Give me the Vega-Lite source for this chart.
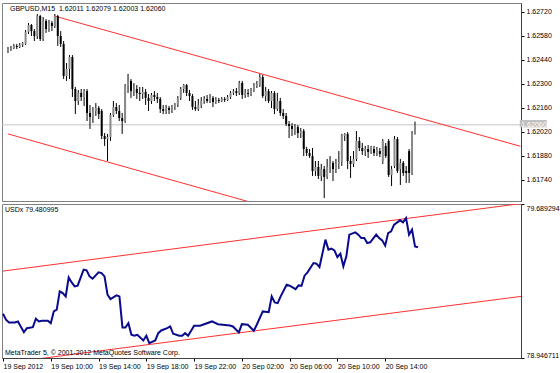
{
  "$schema": "https://vega.github.io/schema/vega-lite/v6.json",
  "background": "white",
  "padding": {"left": 1, "top": 2, "right": 0, "bottom": 0},
  "spacing": 3,
  "bounds": "flush",
  "config": {
    "view": {"stroke": "#808080", "strokeWidth": 1},
    "font": "Liberation Sans",
    "axis": {"labelFont": "Liberation Sans", "labelFontSize": 7, "labelColor": "#000000", "tickColor": "#000000", "domainColor": "#404040", "grid": false, "tickSize": 3, "labelOverlap": false}
  },
  "resolve": {"scale": {"x": "independent", "y": "independent"}},
  "datasets": {
    "bars": [
      {"i":0,"o":1.62491,"h":1.62514,"l":1.62479,"c":1.62502},
      {"i":1,"o":1.62502,"h":1.62520,"l":1.62491,"c":1.62508},
      {"i":2,"o":1.62508,"h":1.62532,"l":1.62502,"c":1.62520},
      {"i":3,"o":1.62520,"h":1.62532,"l":1.62502,"c":1.62514},
      {"i":4,"o":1.62514,"h":1.62537,"l":1.62508,"c":1.62526},
      {"i":5,"o":1.62526,"h":1.62543,"l":1.62514,"c":1.62537},
      {"i":6,"o":1.62532,"h":1.62613,"l":1.62526,"c":1.62602},
      {"i":7,"o":1.62602,"h":1.62654,"l":1.62590,"c":1.62642},
      {"i":8,"o":1.62642,"h":1.62648,"l":1.62578,"c":1.62607},
      {"i":9,"o":1.62607,"h":1.62619,"l":1.62549,"c":1.62578},
      {"i":10,"o":1.62578,"h":1.62707,"l":1.62561,"c":1.62695},
      {"i":11,"o":1.62695,"h":1.62701,"l":1.62549,"c":1.62561},
      {"i":12,"o":1.62561,"h":1.62689,"l":1.62549,"c":1.62666},
      {"i":13,"o":1.62666,"h":1.62677,"l":1.62596,"c":1.62619},
      {"i":14,"o":1.62619,"h":1.62672,"l":1.62602,"c":1.62654},
      {"i":15,"o":1.62654,"h":1.62666,"l":1.62607,"c":1.62637},
      {"i":16,"o":1.62637,"h":1.62707,"l":1.62625,"c":1.62695},
      {"i":17,"o":1.62695,"h":1.62701,"l":1.62520,"c":1.62578},
      {"i":18,"o":1.62578,"h":1.62607,"l":1.62514,"c":1.62532},
      {"i":19,"o":1.62532,"h":1.62549,"l":1.62327,"c":1.62345},
      {"i":20,"o":1.62345,"h":1.62421,"l":1.62316,"c":1.62386},
      {"i":21,"o":1.62386,"h":1.62467,"l":1.62327,"c":1.62456},
      {"i":22,"o":1.62456,"h":1.62467,"l":1.62222,"c":1.62269},
      {"i":23,"o":1.62269,"h":1.62281,"l":1.62123,"c":1.62199},
      {"i":24,"o":1.62199,"h":1.62263,"l":1.62176,"c":1.62246},
      {"i":25,"o":1.62246,"h":1.62269,"l":1.62199,"c":1.62222},
      {"i":26,"o":1.62222,"h":1.62269,"l":1.62170,"c":1.62257},
      {"i":27,"o":1.62257,"h":1.62269,"l":1.62082,"c":1.62129},
      {"i":28,"o":1.62129,"h":1.62176,"l":1.62036,"c":1.62106},
      {"i":29,"o":1.62106,"h":1.62164,"l":1.62071,"c":1.62141},
      {"i":30,"o":1.62141,"h":1.62187,"l":1.62112,"c":1.62158},
      {"i":31,"o":1.62158,"h":1.62170,"l":1.62094,"c":1.62123},
      {"i":32,"o":1.62141,"h":1.62152,"l":1.61977,"c":1.61995},
      {"i":33,"o":1.61995,"h":1.62012,"l":1.61937,"c":1.61977},
      {"i":34,"o":1.61977,"h":1.62007,"l":1.61849,"c":1.61989},
      {"i":35,"o":1.61989,"h":1.62129,"l":1.61966,"c":1.62117},
      {"i":36,"o":1.62117,"h":1.62199,"l":1.62106,"c":1.62164},
      {"i":37,"o":1.62164,"h":1.62187,"l":1.62123,"c":1.62141},
      {"i":38,"o":1.62141,"h":1.62176,"l":1.62082,"c":1.62100},
      {"i":39,"o":1.62100,"h":1.62129,"l":1.62007,"c":1.62082},
      {"i":40,"o":1.62082,"h":1.62298,"l":1.62071,"c":1.62287},
      {"i":41,"o":1.62287,"h":1.62357,"l":1.62246,"c":1.62316},
      {"i":42,"o":1.62316,"h":1.62327,"l":1.62217,"c":1.62257},
      {"i":43,"o":1.62257,"h":1.62304,"l":1.62228,"c":1.62269},
      {"i":44,"o":1.62269,"h":1.62292,"l":1.62211,"c":1.62246},
      {"i":45,"o":1.62246,"h":1.62281,"l":1.62199,"c":1.62240},
      {"i":46,"o":1.62240,"h":1.62281,"l":1.62211,"c":1.62252},
      {"i":47,"o":1.62252,"h":1.62269,"l":1.62176,"c":1.62217},
      {"i":48,"o":1.62217,"h":1.62240,"l":1.62141,"c":1.62199},
      {"i":49,"o":1.62199,"h":1.62246,"l":1.62182,"c":1.62234},
      {"i":50,"o":1.62234,"h":1.62257,"l":1.62199,"c":1.62222},
      {"i":51,"o":1.62222,"h":1.62246,"l":1.62187,"c":1.62211},
      {"i":52,"o":1.62211,"h":1.62222,"l":1.62129,"c":1.62152},
      {"i":53,"o":1.62152,"h":1.62176,"l":1.62123,"c":1.62141},
      {"i":54,"o":1.62141,"h":1.62176,"l":1.62123,"c":1.62158},
      {"i":55,"o":1.62158,"h":1.62170,"l":1.62123,"c":1.62147},
      {"i":56,"o":1.62147,"h":1.62176,"l":1.62129,"c":1.62164},
      {"i":57,"o":1.62164,"h":1.62187,"l":1.62147,"c":1.62176},
      {"i":58,"o":1.62176,"h":1.62228,"l":1.62164,"c":1.62217},
      {"i":59,"o":1.62217,"h":1.62281,"l":1.62205,"c":1.62269},
      {"i":60,"o":1.62269,"h":1.62298,"l":1.62246,"c":1.62292},
      {"i":61,"o":1.62292,"h":1.62298,"l":1.62228,"c":1.62246},
      {"i":62,"o":1.62246,"h":1.62263,"l":1.62199,"c":1.62228},
      {"i":63,"o":1.62228,"h":1.62240,"l":1.62147,"c":1.62164},
      {"i":64,"o":1.62164,"h":1.62199,"l":1.62141,"c":1.62152},
      {"i":65,"o":1.62152,"h":1.62211,"l":1.62141,"c":1.62176},
      {"i":66,"o":1.62176,"h":1.62222,"l":1.62158,"c":1.62199},
      {"i":67,"o":1.62199,"h":1.62228,"l":1.62182,"c":1.62211},
      {"i":68,"o":1.62211,"h":1.62234,"l":1.62187,"c":1.62199},
      {"i":69,"o":1.62199,"h":1.62240,"l":1.62187,"c":1.62217},
      {"i":70,"o":1.62217,"h":1.62228,"l":1.62164,"c":1.62193},
      {"i":71,"o":1.62193,"h":1.62222,"l":1.62182,"c":1.62205},
      {"i":72,"o":1.62205,"h":1.62217,"l":1.62187,"c":1.62199},
      {"i":73,"o":1.62199,"h":1.62222,"l":1.62193,"c":1.62211},
      {"i":74,"o":1.62211,"h":1.62222,"l":1.62193,"c":1.62205},
      {"i":75,"o":1.62205,"h":1.62234,"l":1.62199,"c":1.62222},
      {"i":76,"o":1.62222,"h":1.62257,"l":1.62211,"c":1.62246},
      {"i":77,"o":1.62246,"h":1.62269,"l":1.62234,"c":1.62257},
      {"i":78,"o":1.62257,"h":1.62275,"l":1.62228,"c":1.62246},
      {"i":79,"o":1.62246,"h":1.62316,"l":1.62234,"c":1.62304},
      {"i":80,"o":1.62304,"h":1.62316,"l":1.62211,"c":1.62234},
      {"i":81,"o":1.62234,"h":1.62269,"l":1.62217,"c":1.62246},
      {"i":82,"o":1.62246,"h":1.62269,"l":1.62222,"c":1.62240},
      {"i":83,"o":1.62240,"h":1.62275,"l":1.62228,"c":1.62263},
      {"i":84,"o":1.62263,"h":1.62304,"l":1.62252,"c":1.62287},
      {"i":85,"o":1.62287,"h":1.62316,"l":1.62275,"c":1.62298},
      {"i":86,"o":1.62292,"h":1.62357,"l":1.62281,"c":1.62339},
      {"i":87,"o":1.62339,"h":1.62351,"l":1.62217,"c":1.62228},
      {"i":88,"o":1.62228,"h":1.62281,"l":1.62199,"c":1.62257},
      {"i":89,"o":1.62257,"h":1.62269,"l":1.62187,"c":1.62199},
      {"i":90,"o":1.62199,"h":1.62257,"l":1.62158,"c":1.62246},
      {"i":91,"o":1.62246,"h":1.62257,"l":1.62123,"c":1.62152},
      {"i":92,"o":1.62152,"h":1.62246,"l":1.62141,"c":1.62199},
      {"i":93,"o":1.62199,"h":1.62217,"l":1.62112,"c":1.62129},
      {"i":94,"o":1.62129,"h":1.62152,"l":1.62094,"c":1.62112},
      {"i":95,"o":1.62112,"h":1.62129,"l":1.62053,"c":1.62065},
      {"i":96,"o":1.62065,"h":1.62082,"l":1.61983,"c":1.62053},
      {"i":97,"o":1.62053,"h":1.62071,"l":1.61995,"c":1.62036},
      {"i":98,"o":1.62036,"h":1.62065,"l":1.62001,"c":1.62047},
      {"i":99,"o":1.62047,"h":1.62059,"l":1.61983,"c":1.62012},
      {"i":100,"o":1.62012,"h":1.62042,"l":1.61983,"c":1.62024},
      {"i":101,"o":1.62024,"h":1.62036,"l":1.61878,"c":1.61919},
      {"i":102,"o":1.61919,"h":1.61931,"l":1.61878,"c":1.61896},
      {"i":103,"o":1.61896,"h":1.61919,"l":1.61867,"c":1.61878},
      {"i":104,"o":1.61878,"h":1.61925,"l":1.61762,"c":1.61791},
      {"i":105,"o":1.61791,"h":1.61849,"l":1.61762,"c":1.61814},
      {"i":106,"o":1.61814,"h":1.61849,"l":1.61744,"c":1.61762},
      {"i":107,"o":1.61762,"h":1.61832,"l":1.61732,"c":1.61802},
      {"i":108,"o":1.61802,"h":1.61820,"l":1.61633,"c":1.61756},
      {"i":109,"o":1.61756,"h":1.61861,"l":1.61744,"c":1.61814},
      {"i":110,"o":1.61814,"h":1.61878,"l":1.61779,"c":1.61838},
      {"i":111,"o":1.61838,"h":1.61849,"l":1.61732,"c":1.61802},
      {"i":112,"o":1.61802,"h":1.61861,"l":1.61779,"c":1.61832},
      {"i":113,"o":1.61832,"h":1.61907,"l":1.61802,"c":1.61843},
      {"i":114,"o":1.61843,"h":1.62007,"l":1.61820,"c":1.62001},
      {"i":115,"o":1.61995,"h":1.62012,"l":1.61966,"c":1.62007},
      {"i":116,"o":1.62007,"h":1.62018,"l":1.61802,"c":1.61849},
      {"i":117,"o":1.61849,"h":1.61878,"l":1.61750,"c":1.61832},
      {"i":118,"o":1.61832,"h":1.61907,"l":1.61814,"c":1.61861},
      {"i":119,"o":1.61861,"h":1.62024,"l":1.61849,"c":1.61966},
      {"i":120,"o":1.61966,"h":1.61989,"l":1.61907,"c":1.61925},
      {"i":121,"o":1.61925,"h":1.61954,"l":1.61884,"c":1.61907},
      {"i":122,"o":1.61907,"h":1.61937,"l":1.61878,"c":1.61919},
      {"i":123,"o":1.61919,"h":1.61942,"l":1.61867,"c":1.61902},
      {"i":124,"o":1.61902,"h":1.61937,"l":1.61890,"c":1.61925},
      {"i":125,"o":1.61919,"h":1.61937,"l":1.61878,"c":1.61896},
      {"i":126,"o":1.61896,"h":1.61931,"l":1.61878,"c":1.61913},
      {"i":127,"o":1.61907,"h":1.61925,"l":1.61872,"c":1.61890},
      {"i":128,"o":1.61849,"h":1.61977,"l":1.61832,"c":1.61966},
      {"i":129,"o":1.61937,"h":1.61954,"l":1.61867,"c":1.61878},
      {"i":130,"o":1.61966,"h":1.61977,"l":1.61756,"c":1.61767},
      {"i":131,"o":1.61767,"h":1.61820,"l":1.61703,"c":1.61802},
      {"i":132,"o":1.61820,"h":1.61995,"l":1.61808,"c":1.61977},
      {"i":133,"o":1.61977,"h":1.61989,"l":1.61779,"c":1.61791},
      {"i":134,"o":1.61802,"h":1.61861,"l":1.61709,"c":1.61838},
      {"i":135,"o":1.61838,"h":1.61849,"l":1.61762,"c":1.61779},
      {"i":136,"o":1.61791,"h":1.61820,"l":1.61721,"c":1.61779},
      {"i":137,"o":1.61907,"h":1.61919,"l":1.61721,"c":1.61779},
      {"i":138,"o":1.61779,"h":1.62024,"l":1.61767,"c":1.62012},
      {"i":139,"o":1.62011,"h":1.62079,"l":1.62003,"c":1.62060}
    ],
    "chanTop": [
      {"g":"u","i":16,"p":1.62694},
      {"g":"u","i":175,"p":1.61935},
      {"g":"l","i":0,"p":1.62007},
      {"g":"l","i":100,"p":1.61526}
    ],
    "chanBot": [
      {"g":"u","i":0,"v":79.36582},
      {"g":"u","i":175,"v":79.69412},
      {"g":"l","i":0,"v":78.92067},
      {"g":"l","i":175,"v":79.24656}
    ],
    "usdx": [
      {"i":0,"v":79.16015},{"i":1,"v":79.13118},{"i":2,"v":79.11814},{"i":4,"v":79.11814},
      {"i":5,"v":79.12297},{"i":7,"v":79.07131},{"i":8,"v":79.09062},{"i":10,"v":79.09545},
      {"i":11,"v":79.13601},{"i":12,"v":79.12297},{"i":13,"v":79.12634},{"i":15,"v":79.12634},
      {"i":16,"v":79.11476},{"i":17,"v":79.17125},{"i":18,"v":79.17943},{"i":19,"v":79.26781},
      {"i":20,"v":79.25960},{"i":21,"v":79.24367},{"i":22,"v":79.33540},{"i":23,"v":79.31126},
      {"i":24,"v":79.29195},{"i":25,"v":79.29533},{"i":27,"v":79.37258},{"i":28,"v":79.36920},
      {"i":29,"v":79.34023},{"i":30,"v":79.32913},{"i":32,"v":79.35954},{"i":33,"v":79.35616},
      {"i":34,"v":79.34023},{"i":35,"v":79.25188},{"i":36,"v":79.23064},{"i":38,"v":79.24850},
      {"i":39,"v":79.24367},{"i":40,"v":79.09400},{"i":41,"v":79.09400},{"i":42,"v":79.11476},
      {"i":43,"v":79.05875},{"i":44,"v":79.05393},{"i":45,"v":79.05875},{"i":47,"v":79.03124},
      {"i":48,"v":79.05393},{"i":49,"v":79.01821},{"i":51,"v":79.03124},{"i":52,"v":79.06648},
      {"i":53,"v":79.07952},{"i":55,"v":79.09062},{"i":56,"v":79.09883},{"i":57,"v":79.06358},
      {"i":59,"v":79.05393},{"i":60,"v":79.05393},{"i":61,"v":79.06648},{"i":62,"v":79.05393},
      {"i":64,"v":79.10220},{"i":66,"v":79.10220},{"i":70,"v":79.12297},{"i":72,"v":79.10993},
      {"i":76,"v":79.10366},{"i":77,"v":79.09883},{"i":79,"v":79.06986},{"i":80,"v":79.10993},
      {"i":82,"v":79.10704},{"i":84,"v":79.07807},{"i":85,"v":79.10704},{"i":87,"v":79.17125},
      {"i":89,"v":79.16787},{"i":90,"v":79.24367},{"i":91,"v":79.21470},{"i":92,"v":79.21132},
      {"i":93,"v":79.24367},{"i":95,"v":79.30016},{"i":96,"v":79.29533},{"i":98,"v":79.27892},
      {"i":99,"v":79.29678},{"i":100,"v":79.29533},{"i":101,"v":79.34361},{"i":102,"v":79.35954},
      {"i":104,"v":79.40444},{"i":105,"v":79.40155},{"i":106,"v":79.38513},{"i":108,"v":79.51742},
      {"i":109,"v":79.46914},{"i":110,"v":79.47397},{"i":111,"v":79.46576},{"i":112,"v":79.43341},
      {"i":113,"v":79.44983},{"i":114,"v":79.38851},{"i":115,"v":79.43679},{"i":116,"v":79.54156},
      {"i":118,"v":79.55266},{"i":119,"v":79.54156},{"i":120,"v":79.52514},{"i":121,"v":79.52514},
      {"i":122,"v":79.50100},{"i":123,"v":79.50438},{"i":125,"v":79.54156},{"i":126,"v":79.52514},
      {"i":127,"v":79.51404},{"i":128,"v":79.48845},{"i":129,"v":79.54928},{"i":130,"v":79.55749},
      {"i":131,"v":79.58984},{"i":133,"v":79.61060},{"i":134,"v":79.60094},{"i":135,"v":79.62171},
      {"i":136,"v":79.54156},{"i":137,"v":79.56570},{"i":138,"v":79.48507},{"i":139,"v":79.480995}
    ],
    "one": [{}]
  },
  "vconcat": [
    {
      "width": 519,
      "height": 198,
      "layer": [
        {
          "data": {"name": "one"},
          "mark": {"type": "rule", "color": "#c4c4c4", "strokeWidth": 1},
          "encoding": {
            "y": {"datum": 1.6206, "type": "quantitative", "title": null, "scale": {"domain": [1.616157, 1.627707], "nice": false, "zero": false},
              "axis": {"orient": "right", "values": [1.6174, 1.6188, 1.6202, 1.6216, 1.623, 1.6244, 1.6258, 1.6272], "format": ".5f", "labelFlush": false, "labelOverlap": false, "labelAlign": "left", "labelPadding": 2, "title": null}}
          }
        },
        {
          "data": {"name": "chanTop"},
          "mark": {"type": "line", "color": "#ff3030", "strokeWidth": 1, "clip": true},
          "encoding": {
            "x": {"field": "i", "type": "quantitative", "scale": {"domain": [-0.34, 173.5], "nice": false, "zero": false}, "axis": null},
            "y": {"field": "p", "type": "quantitative", "title": null, "scale": {"domain": [1.616157, 1.627707], "nice": false, "zero": false},
              "axis": {"orient": "right", "values": [1.6174, 1.6188, 1.6202, 1.6216, 1.623, 1.6244, 1.6258, 1.6272], "format": ".5f", "labelFlush": false, "labelOverlap": false, "labelAlign": "left", "labelPadding": 2, "title": null}},
            "detail": {"field": "g"}
          }
        },
        {
          "data": {"name": "bars"},
          "mark": {"type": "rule", "color": "#000000", "strokeWidth": 1, "clip": true},
          "encoding": {
            "x": {"field": "i", "type": "quantitative", "scale": {"domain": [-0.34, 173.5], "nice": false, "zero": false}, "axis": null},
            "y": {"field": "l", "type": "quantitative", "title": null, "scale": {"domain": [1.616157, 1.627707], "nice": false, "zero": false},
              "axis": {"orient": "right", "values": [1.6174, 1.6188, 1.6202, 1.6216, 1.623, 1.6244, 1.6258, 1.6272], "format": ".5f", "labelFlush": false, "labelOverlap": false, "labelAlign": "left", "labelPadding": 2, "title": null}},
            "y2": {"field": "h"}
          }
        },
        {
          "data": {"name": "bars"},
          "mark": {"type": "bar", "size": 2, "clip": true},
          "encoding": {
            "x": {"field": "i", "type": "quantitative", "scale": {"domain": [-0.34, 173.5], "nice": false, "zero": false}, "axis": null},
            "y": {"field": "o", "type": "quantitative", "title": null, "scale": {"domain": [1.616157, 1.627707], "nice": false, "zero": false},
              "axis": {"orient": "right", "values": [1.6174, 1.6188, 1.6202, 1.6216, 1.623, 1.6244, 1.6258, 1.6272], "format": ".5f", "labelFlush": false, "labelOverlap": false, "labelAlign": "left", "labelPadding": 2, "title": null}},
            "y2": {"field": "c"},
            "color": {"condition": {"test": "datum.c >= datum.o", "value": "#8a8a8a"}, "value": "#000000"}
          }
        },
        {
          "data": {"name": "one"},
          "mark": {"type": "text", "align": "left", "baseline": "middle", "fontSize": 7, "color": "#000000"},
          "encoding": {
            "x": {"datum": 0.67, "type": "quantitative", "scale": {"domain": [-0.34, 173.5], "nice": false, "zero": false}, "axis": null},
            "y": {"datum": 1.62734, "type": "quantitative", "title": null, "scale": {"domain": [1.616157, 1.627707], "nice": false, "zero": false},
              "axis": {"orient": "right", "values": [1.6174, 1.6188, 1.6202, 1.6216, 1.623, 1.6244, 1.6258, 1.6272], "format": ".5f", "labelFlush": false, "labelOverlap": false, "labelAlign": "left", "labelPadding": 2, "title": null}},
            "text": {"value": "GBPUSD,M15\u00a0\u00a01.62011 1.62079 1.62003 1.62060"}
          }
        },
        {
          "data": {"name": "one"},
          "mark": {"type": "rect", "color": "#c0c0c0", "clip": false},
          "encoding": {
            "x": {"datum": 174.8, "type": "quantitative", "scale": {"domain": [-0.34, 173.5], "nice": false, "zero": false}, "axis": null},
            "x2": {"datum": 184.0},
            "y": {"datum": 1.62088, "type": "quantitative", "title": null, "scale": {"domain": [1.616157, 1.627707], "nice": false, "zero": false},
              "axis": {"orient": "right", "values": [1.6174, 1.6188, 1.6202, 1.6216, 1.623, 1.6244, 1.6258, 1.6272], "format": ".5f", "labelFlush": false, "labelOverlap": false, "labelAlign": "left", "labelPadding": 2, "title": null}},
            "y2": {"datum": 1.62045}
          }
        },
        {
          "data": {"name": "one"},
          "mark": {"type": "text", "align": "left", "baseline": "middle", "fontSize": 7, "color": "#ffffff", "clip": false},
          "encoding": {
            "x": {"datum": 175.3, "type": "quantitative", "scale": {"domain": [-0.34, 173.5], "nice": false, "zero": false}, "axis": null},
            "y": {"datum": 1.6206, "type": "quantitative", "title": null, "scale": {"domain": [1.616157, 1.627707], "nice": false, "zero": false},
              "axis": {"orient": "right", "values": [1.6174, 1.6188, 1.6202, 1.6216, 1.623, 1.6244, 1.6258, 1.6272], "format": ".5f", "labelFlush": false, "labelOverlap": false, "labelAlign": "left", "labelPadding": 2, "title": null}},
            "text": {"value": "1.62060"}
          }
        }
      ]
    },
    {
      "width": 519,
      "height": 154,
      "layer": [
        {
          "data": {"name": "chanBot"},
          "mark": {"type": "line", "color": "#ff3030", "strokeWidth": 1, "clip": true},
          "encoding": {
            "x": {"field": "i", "type": "quantitative", "scale": {"domain": [-0.34, 173.5], "nice": false, "zero": false},
              "axis": {"orient": "bottom", "values": [0, 16, 32, 48, 64, 80, 96, 112, 128], "labelExpr": "['19 Sep 2012','19 Sep 10:00','19 Sep 14:00','19 Sep 18:00','19 Sep 22:00','20 Sep 02:00','20 Sep 06:00','20 Sep 10:00','20 Sep 14:00'][round(datum.value/16)]", "labelAlign": "left", "labelFlush": false, "labelOverlap": false, "labelPadding": 1, "labelBaseline": "top", "labelDx": 1, "title": null}},
            "y": {"field": "v", "type": "quantitative", "scale": {"domain": [78.946711, 79.689294], "nice": false, "zero": false},
              "axis": {"orient": "right", "values": [78.946711, 79.689294], "labelExpr": "format(datum.value, '.6f')", "labelFlush": true, "labelOverlap": false, "labelAlign": "left", "labelPadding": 2, "title": null}},
            "detail": {"field": "g"}
          }
        },
        {
          "data": {"name": "usdx"},
          "mark": {"type": "line", "color": "#0a0a8c", "strokeWidth": 2, "clip": true},
          "encoding": {
            "x": {"field": "i", "type": "quantitative", "scale": {"domain": [-0.34, 173.5], "nice": false, "zero": false}},
            "y": {"field": "v", "type": "quantitative", "scale": {"domain": [78.946711, 79.689294], "nice": false, "zero": false}}
          }
        },
        {
          "data": {"name": "one"},
          "mark": {"type": "text", "align": "left", "baseline": "middle", "fontSize": 7, "color": "#000000"},
          "encoding": {
            "x": {"datum": 0.67, "type": "quantitative", "scale": {"domain": [-0.34, 173.5], "nice": false, "zero": false}},
            "y": {"datum": 79.65888, "type": "quantitative", "scale": {"domain": [78.946711, 79.689294], "nice": false, "zero": false}},
            "text": {"value": "USDx 79.480995"}
          }
        },
        {
          "data": {"name": "one"},
          "mark": {"type": "text", "align": "left", "baseline": "middle", "fontSize": 7, "color": "#000000"},
          "encoding": {
            "x": {"datum": 0.67, "type": "quantitative", "scale": {"domain": [-0.34, 173.5], "nice": false, "zero": false}},
            "y": {"datum": 78.97089, "type": "quantitative", "scale": {"domain": [78.946711, 79.689294], "nice": false, "zero": false}},
            "text": {"value": "MetaTrader 5, © 2001-2012 MetaQuotes Software Corp."}
          }
        }
      ]
    }
  ]
}
